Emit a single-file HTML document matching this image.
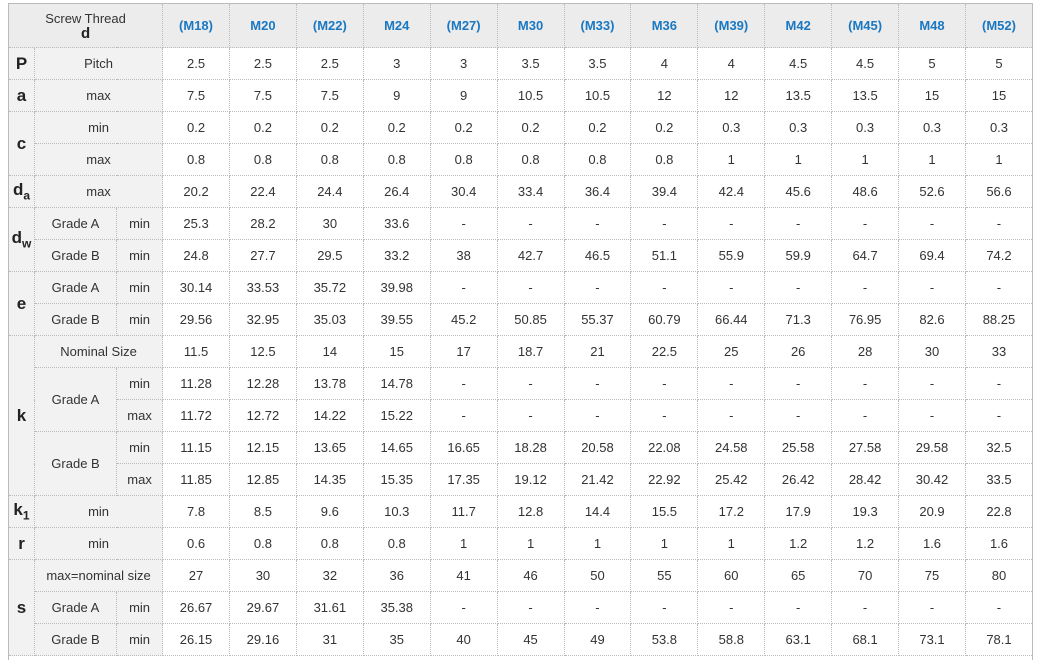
<!DOCTYPE html>
<html><head><meta charset="utf-8"><style>
html,body{margin:0;padding:0;}
#wrap{position:relative;background:#fff;width:1037px;height:660px;overflow:hidden;font-family:"Liberation Sans",Arial,sans-serif;}
table{position:absolute;left:8px;top:3px;border-collapse:collapse;table-layout:fixed;width:1025px;font-size:13px;color:#333;border:1px solid #bbb;}
td,th{border:1px dotted #bbb;height:31px;padding:0;text-align:center;vertical-align:middle;}
th{background:#ececec;color:#1a78c2;font-weight:bold;height:43px;}
th.h{color:#333;font-weight:normal;line-height:15px}
th.h b{font-size:15px;color:#222}
td.l{background:#f2f2f2;}
td.b{background:#f2f2f2;font-weight:bold;font-size:17px;color:#222}
sub{font-size:12px}
tr.w td{height:18px;text-align:left;font-weight:bold;border:none;}
</style></head><body><div id="wrap">
<table>
<colgroup><col style="width:26px"><col style="width:82px"><col style="width:46px"><col span="13" style="width:66.9px"></colgroup>
<tr><th class="h" colspan="3">Screw Thread<br><b>d</b></th><th>(M18)</th><th>M20</th><th>(M22)</th><th>M24</th><th>(M27)</th><th>M30</th><th>(M33)</th><th>M36</th><th>(M39)</th><th>M42</th><th>(M45)</th><th>M48</th><th>(M52)</th></tr>
<tr><td class="b">P</td><td class="l" colspan="2">Pitch</td><td>2.5</td><td>2.5</td><td>2.5</td><td>3</td><td>3</td><td>3.5</td><td>3.5</td><td>4</td><td>4</td><td>4.5</td><td>4.5</td><td>5</td><td>5</td></tr>
<tr><td class="b">a</td><td class="l" colspan="2">max</td><td>7.5</td><td>7.5</td><td>7.5</td><td>9</td><td>9</td><td>10.5</td><td>10.5</td><td>12</td><td>12</td><td>13.5</td><td>13.5</td><td>15</td><td>15</td></tr>
<tr><td class="b" rowspan="2">c</td><td class="l" colspan="2">min</td><td>0.2</td><td>0.2</td><td>0.2</td><td>0.2</td><td>0.2</td><td>0.2</td><td>0.2</td><td>0.2</td><td>0.3</td><td>0.3</td><td>0.3</td><td>0.3</td><td>0.3</td></tr>
<tr><td class="l" colspan="2">max</td><td>0.8</td><td>0.8</td><td>0.8</td><td>0.8</td><td>0.8</td><td>0.8</td><td>0.8</td><td>0.8</td><td>1</td><td>1</td><td>1</td><td>1</td><td>1</td></tr>
<tr><td class="b">d<sub>a</sub></td><td class="l" colspan="2">max</td><td>20.2</td><td>22.4</td><td>24.4</td><td>26.4</td><td>30.4</td><td>33.4</td><td>36.4</td><td>39.4</td><td>42.4</td><td>45.6</td><td>48.6</td><td>52.6</td><td>56.6</td></tr>
<tr><td class="b" rowspan="2">d<sub>w</sub></td><td class="l">Grade A</td><td class="l">min</td><td>25.3</td><td>28.2</td><td>30</td><td>33.6</td><td>-</td><td>-</td><td>-</td><td>-</td><td>-</td><td>-</td><td>-</td><td>-</td><td>-</td></tr>
<tr><td class="l">Grade B</td><td class="l">min</td><td>24.8</td><td>27.7</td><td>29.5</td><td>33.2</td><td>38</td><td>42.7</td><td>46.5</td><td>51.1</td><td>55.9</td><td>59.9</td><td>64.7</td><td>69.4</td><td>74.2</td></tr>
<tr><td class="b" rowspan="2">e</td><td class="l">Grade A</td><td class="l">min</td><td>30.14</td><td>33.53</td><td>35.72</td><td>39.98</td><td>-</td><td>-</td><td>-</td><td>-</td><td>-</td><td>-</td><td>-</td><td>-</td><td>-</td></tr>
<tr><td class="l">Grade B</td><td class="l">min</td><td>29.56</td><td>32.95</td><td>35.03</td><td>39.55</td><td>45.2</td><td>50.85</td><td>55.37</td><td>60.79</td><td>66.44</td><td>71.3</td><td>76.95</td><td>82.6</td><td>88.25</td></tr>
<tr><td class="b" rowspan="5">k</td><td class="l" colspan="2">Nominal Size</td><td>11.5</td><td>12.5</td><td>14</td><td>15</td><td>17</td><td>18.7</td><td>21</td><td>22.5</td><td>25</td><td>26</td><td>28</td><td>30</td><td>33</td></tr>
<tr><td class="l" rowspan="2">Grade A</td><td class="l">min</td><td>11.28</td><td>12.28</td><td>13.78</td><td>14.78</td><td>-</td><td>-</td><td>-</td><td>-</td><td>-</td><td>-</td><td>-</td><td>-</td><td>-</td></tr>
<tr><td class="l">max</td><td>11.72</td><td>12.72</td><td>14.22</td><td>15.22</td><td>-</td><td>-</td><td>-</td><td>-</td><td>-</td><td>-</td><td>-</td><td>-</td><td>-</td></tr>
<tr><td class="l" rowspan="2">Grade B</td><td class="l">min</td><td>11.15</td><td>12.15</td><td>13.65</td><td>14.65</td><td>16.65</td><td>18.28</td><td>20.58</td><td>22.08</td><td>24.58</td><td>25.58</td><td>27.58</td><td>29.58</td><td>32.5</td></tr>
<tr><td class="l">max</td><td>11.85</td><td>12.85</td><td>14.35</td><td>15.35</td><td>17.35</td><td>19.12</td><td>21.42</td><td>22.92</td><td>25.42</td><td>26.42</td><td>28.42</td><td>30.42</td><td>33.5</td></tr>
<tr><td class="b">k<sub>1</sub></td><td class="l" colspan="2">min</td><td>7.8</td><td>8.5</td><td>9.6</td><td>10.3</td><td>11.7</td><td>12.8</td><td>14.4</td><td>15.5</td><td>17.2</td><td>17.9</td><td>19.3</td><td>20.9</td><td>22.8</td></tr>
<tr><td class="b">r</td><td class="l" colspan="2">min</td><td>0.6</td><td>0.8</td><td>0.8</td><td>0.8</td><td>1</td><td>1</td><td>1</td><td>1</td><td>1</td><td>1.2</td><td>1.2</td><td>1.6</td><td>1.6</td></tr>
<tr><td class="b" rowspan="3">s</td><td class="l" colspan="2">max=nominal size</td><td>27</td><td>30</td><td>32</td><td>36</td><td>41</td><td>46</td><td>50</td><td>55</td><td>60</td><td>65</td><td>70</td><td>75</td><td>80</td></tr>
<tr><td class="l">Grade A</td><td class="l">min</td><td>26.67</td><td>29.67</td><td>31.61</td><td>35.38</td><td>-</td><td>-</td><td>-</td><td>-</td><td>-</td><td>-</td><td>-</td><td>-</td><td>-</td></tr>
<tr><td class="l">Grade B</td><td class="l">min</td><td>26.15</td><td>29.16</td><td>31</td><td>35</td><td>40</td><td>45</td><td>49</td><td>53.8</td><td>58.8</td><td>63.1</td><td>68.1</td><td>73.1</td><td>78.1</td></tr>
<tr class="w"><td colspan="16">Weight of per 1000 pcs (kg)</td></tr>
</table>
</div></body></html>
